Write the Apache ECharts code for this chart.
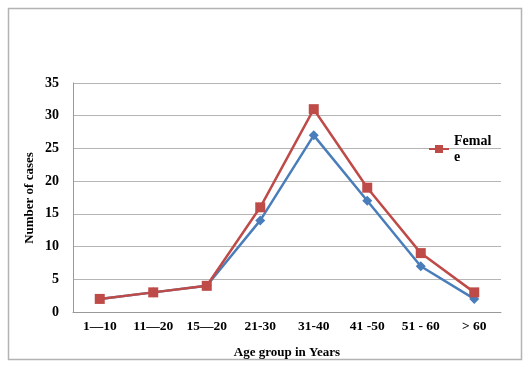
<!DOCTYPE html>
<html>
<head>
<meta charset="utf-8">
<script src="https://cdn.jsdelivr.net/npm/echarts@6/dist/echarts.min.js"></script>
<style>
html,body{margin:0;padding:0;background:#fff;}
#chart{width:526px;height:365px;}
</style>
</head>
<body>
<div id="chart"></div>
<script>
var categories = ['1\u201410', '11\u201420', '15\u201420', '21-30', '31-40', '41 -50', '51 - 60', '> 60'];
var maleValues = [2, 3, 4, 14, 27, 17, 7, 2];
var femaleValues = [2, 3, 4, 16, 31, 19, 9, 3];
var yTicks = [0, 5, 10, 15, 20, 25, 30, 35];
var yTitle = 'Number of cases';
var xTitle = 'Age group in Years';

var font = 'Liberation Serif';
var chart = echarts.init(document.getElementById('chart'), null, {renderer: 'canvas'});
chart.setOption({
  animation: false,
  backgroundColor: '#fff',
  graphic: [{
    type: 'rect', left: 6, top: 6,
    shape: {width: 513, height: 351},
    style: {fill: 'none', stroke: '#b3b3b3', lineWidth: 1.5},
    z: -1
  }, {
    type: 'text',
    x: 30, y: 198,
    rotation: Math.PI / 2,
    style: {
      text: yTitle,
      fontFamily: font, fontWeight: 'bold', fontSize: 13, fill: '#000',
      align: 'center', verticalAlign: 'middle'
    }
  }],
  grid: {left: 73, right: 25, top: 83, bottom: 53},
  legend: {
    data: ['Female'],
    left: 423, top: 128,
    itemWidth: 20, itemHeight: 10,
    itemGap: 4,
    formatter: function () { return 'Femal\ne'; },
    textStyle: {fontFamily: font, fontWeight: 'bold', fontSize: 14, color: '#000', lineHeight: 16}
  },
  xAxis: {
    type: 'category',
    data: categories,
    boundaryGap: true,
    name: xTitle,
    nameLocation: 'middle',
    nameGap: 34,
    nameTextStyle: {fontFamily: font, fontWeight: 'bold', fontSize: 13, color: '#000'},
    axisLine: {lineStyle: {color: '#999', width: 1}},
    axisTick: {show: false},
    axisLabel: {interval: 0, hideOverlap: false, fontFamily: font, fontWeight: 'bold', fontSize: 13.5, color: '#000', margin: 8}
  },
  yAxis: {
    type: 'value',
    min: yTicks[0], max: yTicks[yTicks.length - 1], interval: 5,
    axisLine: {show: true, lineStyle: {color: '#999', width: 1}},
    axisTick: {show: false},
    axisLabel: {fontFamily: font, fontWeight: 'bold', fontSize: 14, color: '#000', margin: 14},
    splitLine: {lineStyle: {color: '#b5b5b5', width: 1.2}}
  },
  series: [{
    name: 'Male',
    type: 'line',
    data: maleValues,
    symbol: 'diamond',
    symbolSize: 10,
    itemStyle: {color: '#4a7ebb'},
    lineStyle: {color: '#4a7ebb', width: 2.5},
    z: 2
  }, {
    name: 'Female',
    type: 'line',
    data: femaleValues,
    symbol: 'rect',
    symbolSize: 10,
    itemStyle: {color: '#be4b48'},
    lineStyle: {color: '#be4b48', width: 2.5},
    z: 3
  }]
});
</script>
</body>
</html>
